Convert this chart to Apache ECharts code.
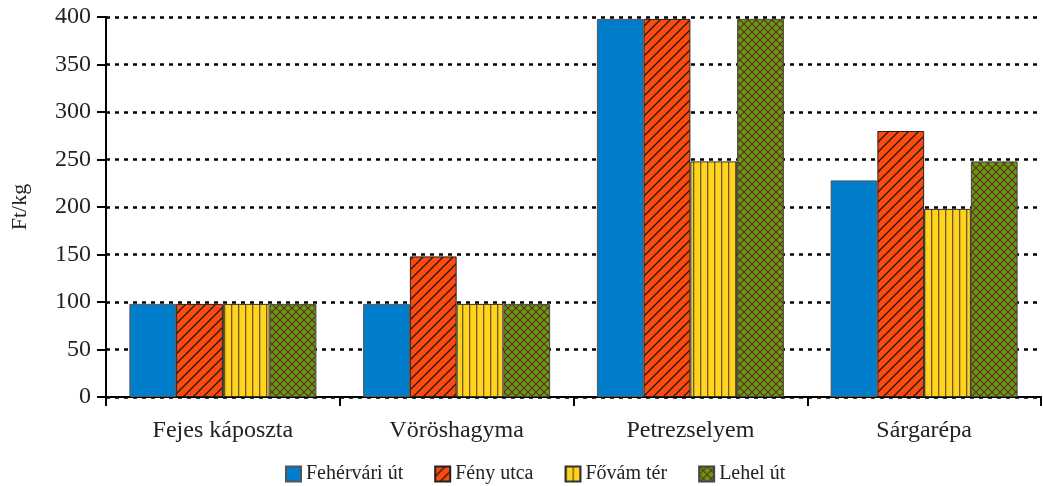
<!DOCTYPE html>
<html>
<head>
<meta charset="utf-8">
<script src="https://cdn.jsdelivr.net/npm/echarts@6/dist/echarts.min.js"></script>
<style>
  html, body { margin: 0; padding: 0; background: #fff; }
  #main { width: 1043px; height: 486px; }
</style>
</head>
<body>
<div id="main"></div>
<script>
const categories = ['Fejes káposzta', 'Vöröshagyma', 'Petrezselyem', 'Sárgarépa'];
const seriesNames = ['Fehérvári út', 'Fény utca', 'Fővám tér', 'Lehel út'];
const fehervari = [98, 98, 398, 228];
const feny = [98, 148, 398, 280];
const fovam = [98, 98, 248, 198];
const lehel = [98, 98, 398, 248];

// fill patterns drawn on small canvases
function makePattern(w, h, draw) {
  const c = document.createElement('canvas');
  c.width = w; c.height = h;
  draw(c.getContext('2d'), w, h);
  return { image: c, repeat: 'repeat' };
}
const diagRed = makePattern(10, 10, (ctx, w, h) => {
  ctx.fillStyle = '#ff4a0e'; ctx.fillRect(0, 0, w, h);
  ctx.strokeStyle = '#1a1a1a'; ctx.lineWidth = 1.3;
  ctx.beginPath();
  ctx.moveTo(-1, h + 1); ctx.lineTo(w + 1, -1);
  ctx.moveTo(-1, 1); ctx.lineTo(1, -1);
  ctx.moveTo(w - 1, h + 1); ctx.lineTo(w + 1, h - 1);
  ctx.stroke();
});
const vertYellow = makePattern(7.5, 10, (ctx, w, h) => {
  ctx.fillStyle = '#ffd320'; ctx.fillRect(0, 0, w, h);
  ctx.fillStyle = '#6b5a1a'; ctx.fillRect(0, 0, 1.3, h);
});
const crossGreen = makePattern(8, 8, (ctx, w, h) => {
  ctx.fillStyle = '#5aa01c'; ctx.fillRect(0, 0, w, h);
  ctx.strokeStyle = '#7e1e0c'; ctx.lineWidth = 1.1;
  ctx.beginPath();
  ctx.moveTo(0, 0); ctx.lineTo(w, h);
  ctx.moveTo(w, 0); ctx.lineTo(0, h);
  ctx.stroke();
});

const fills = ['#007ecc', diagRed, vertYellow, crossGreen];
const borders = ['#555', '#222', '#333', '#444'];
const values = [fehervari, feny, fovam, lehel];

const font = '"Liberation Serif", "DejaVu Serif", serif';
const chart = echarts.init(document.getElementById('main'));
chart.setOption({
  animation: false,
  textStyle: { fontFamily: font },
  grid: { left: 106, right: 2, top: 17, bottom: 89, outerBoundsMode: 'none' },
  legend: {
    top: 459,
    left: 280,
    icon: 'rect',
    itemWidth: 15,
    itemHeight: 15,
    itemGap: 31,
    textStyle: { fontFamily: font, fontSize: 20, color: '#222' },
    data: seriesNames
  },
  xAxis: {
    type: 'category',
    data: categories,
    axisLine: { lineStyle: { color: '#000', width: 2 } },
    axisTick: { show: true, length: 9, lineStyle: { color: '#000', width: 2 } },
    axisLabel: { fontFamily: font, fontSize: 24, color: '#222', margin: 22 }
  },
  yAxis: {
    type: 'value',
    min: 0,
    max: 400,
    interval: 50,
    name: 'Ft/kg',
    nameLocation: 'middle',
    nameGap: 75,
    nameTextStyle: { fontFamily: font, fontSize: 22, color: '#222' },
    axisLine: { show: true, lineStyle: { color: '#000', width: 2 } },
    axisTick: { show: true, length: 9, lineStyle: { color: '#000', width: 2 } },
    axisLabel: { fontFamily: font, fontSize: 24, color: '#222', margin: 15 },
    splitLine: { lineStyle: { color: '#000', width: 2.5, type: [4, 5] } }
  },
  series: seriesNames.map((name, i) => ({
    name: name,
    type: 'bar',
    data: values[i],
    barGap: '0%',
    barCategoryGap: '20%',
    itemStyle: { color: fills[i], borderColor: borders[i], borderWidth: 1 }
  }))
});
</script>
</body>
</html>
